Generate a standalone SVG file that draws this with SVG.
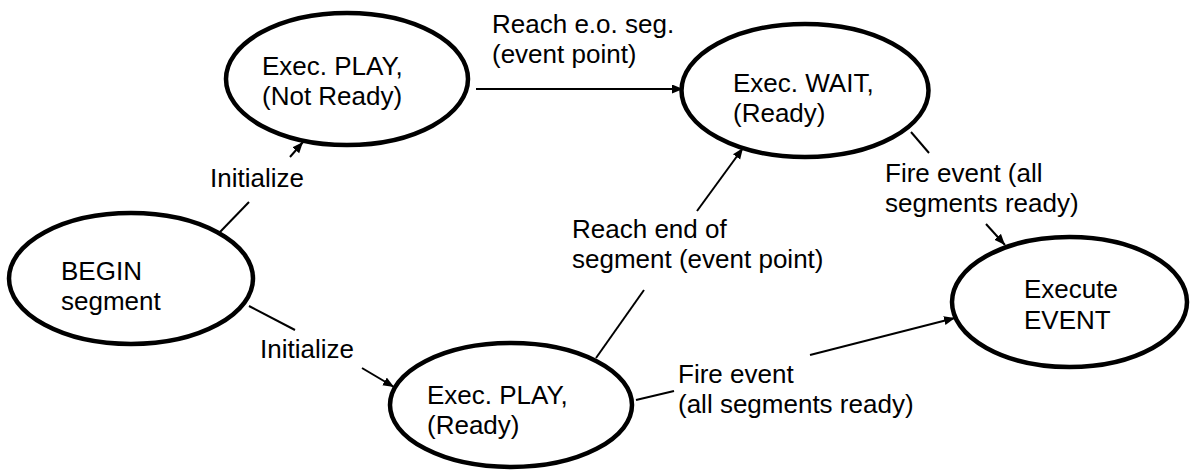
<svg xmlns="http://www.w3.org/2000/svg" width="1190" height="472" viewBox="0 0 1190 472">
  <style>
    .node ellipse { fill: #ffffff; stroke: #000000; stroke-width: 4.5; }
    text { font-family: "Liberation Sans", Arial, sans-serif; font-size: 26px; fill: #000000; }
    .conn line { stroke: #000000; stroke-width: 2; fill: none; }
  </style>
  <defs>
    <marker id="arr" markerWidth="12" markerHeight="10" refX="11" refY="4.5" orient="auto" markerUnits="userSpaceOnUse">
      <path d="M0,0 L11,4.5 L0,9 z" fill="#000000"/>
    </marker>
  </defs>
  <rect x="0" y="0" width="1190" height="472" fill="#ffffff"/>

  <g id="node-play-notready" class="node">
    <ellipse cx="347" cy="79" rx="121" ry="66"/>
    <text x="262" y="75">Exec. PLAY,</text>
    <text x="262" y="105">(Not Ready)</text>
  </g>
  <g id="node-wait" class="node">
    <ellipse cx="805" cy="90.5" rx="123.5" ry="66.5"/>
    <text x="733" y="92">Exec. WAIT,</text>
    <text x="733" y="122">(Ready)</text>
  </g>
  <g id="node-begin" class="node">
    <ellipse cx="131" cy="278.5" rx="122" ry="65.5"/>
    <text x="61" y="280">BEGIN</text>
    <text x="61" y="310">segment</text>
  </g>
  <g id="node-play-ready" class="node">
    <ellipse cx="511" cy="405" rx="121" ry="62"/>
    <text x="427" y="404">Exec. PLAY,</text>
    <text x="427" y="434">(Ready)</text>
  </g>
  <g id="node-event" class="node">
    <ellipse cx="1069.5" cy="302" rx="117.5" ry="65"/>
    <text x="1024" y="298">Execute</text>
    <text x="1024" y="329">EVENT</text>
  </g>

  <g id="connectors" class="conn">
    <g id="c-init-top">
      <line x1="220" y1="232" x2="249" y2="202"/>
      <line x1="290" y1="157" x2="303" y2="142" marker-end="url(#arr)"/>
      <text x="210" y="187">Initialize</text>
    </g>
    <g id="c-init-bottom">
      <line x1="249" y1="306" x2="295" y2="330"/>
      <line x1="362" y1="368" x2="394" y2="387" marker-end="url(#arr)"/>
      <text x="260" y="358">Initialize</text>
    </g>
    <g id="c-reach-eo">
      <line x1="476" y1="89" x2="683" y2="89" marker-end="url(#arr)"/>
      <text x="492" y="33">Reach e.o. seg.</text>
      <text x="492" y="63">(event point)</text>
    </g>
    <g id="c-reach-end">
      <line x1="596" y1="358" x2="644" y2="290"/>
      <line x1="697" y1="211" x2="743" y2="148" marker-end="url(#arr)"/>
      <text x="572" y="238">Reach end of</text>
      <text x="572" y="268">segment (event point)</text>
    </g>
    <g id="c-fire-top">
      <line x1="911" y1="132" x2="929" y2="153"/>
      <line x1="986" y1="224" x2="1005" y2="245" marker-end="url(#arr)"/>
      <text x="885" y="182">Fire event (all</text>
      <text x="885" y="212">segments ready)</text>
    </g>
    <g id="c-fire-bottom">
      <line x1="636" y1="400" x2="674" y2="391"/>
      <line x1="810" y1="355" x2="955" y2="318" marker-end="url(#arr)"/>
      <text x="678" y="383">Fire event</text>
      <text x="678" y="413">(all segments ready)</text>
    </g>
  </g>
</svg>
